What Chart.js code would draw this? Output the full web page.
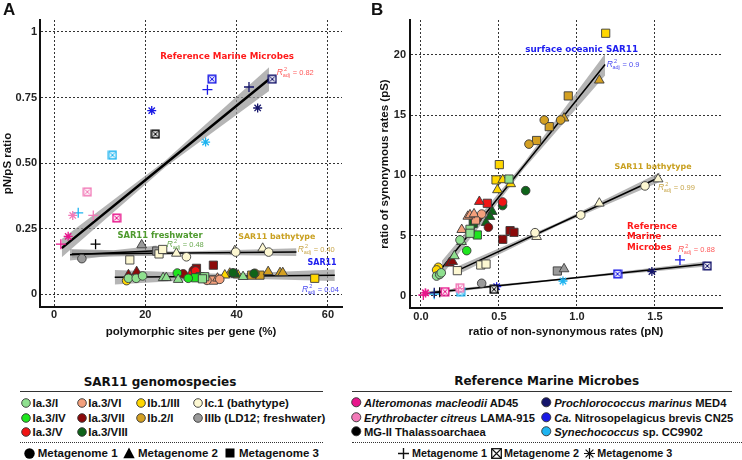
<!DOCTYPE html>
<html>
<head>
<meta charset="utf-8">
<script src="https://cdn.jsdelivr.net/npm/chart.js@4.4.1/dist/chart.umd.min.js"></script>
<style>
  body { margin: 0; background: #fff; width: 742px; height: 460px; overflow: hidden; position: relative; font-family: "Liberation Sans", Arial, sans-serif; }
  canvas { position: absolute; top: 0; }
  .panel { position: absolute; top: 1px; font: bold 17px/17px "Liberation Sans", Arial, sans-serif; color: #111; }
  .lg { position: absolute; height: 14px; display: flex; align-items: center; white-space: nowrap; font: bold 11.5px/14px "Liberation Sans", Arial, sans-serif; color: #111; }
  .lg.ref { font-size: 11.2px; }
  .lg.refmeta { font-size: 10.8px; }
  .lgtitle { position: absolute; transform: translate(-50%, -50%); white-space: nowrap; font: bold 12px "DejaVu Sans", sans-serif; color: #111; }
  .rule { position: absolute; height: 0; border-top: 1.5px solid #333; }
  .rule.dot { border-top-style: dotted; }
</style>
</head>
<body>
<canvas id="chartA" width="370" height="345" style="left:0"></canvas>
<canvas id="chartB" width="372" height="345" style="left:370px"></canvas>
<div class="panel" style="left:3px">A</div>
<div class="panel" style="left:371px">B</div>
<script>
//Achsen -------------------------------------------------------------------
const xTicksA = [0, 20, 40, 60];
const xLabelsA = ['0', '20', '40', '60'];
const yTicksA = [0, 0.25, 0.5, 0.75, 1];
const yLabelsA = ['0', '0.25', '0.50', '0.75', '1'];
const xTicksB = [0, 0.5, 1, 1.5];
const xLabelsB = ['0.0', '0.5', '1.0', '1.5'];
const yTicksB = [0, 5, 10, 15, 20];
const yLabelsB = ['0', '5', '10', '15', '20'];

//Gruppen ------------------------------------------------------------------
const sar11Names = ['Ia.3/I', 'Ia.3/IV', 'Ia.3/V', 'Ia.3/VI', 'Ia.3/VII', 'Ia.3/VIII', 'Ib.1/III', 'Ib.2/I', 'Ic.1 (bathytype)', 'IIIb (LD12; freshwater)'];
const sar11Colors = ['#8fe08f', '#1ee61e', '#f01414', '#f4a07c', '#8c0a0a', '#0f6419', '#ffd700', '#d4a022', '#fdf8d2', '#9a9a9a'];
const refNames = ['<i>Alteromonas macleodii</i> AD45', '<i>Erythrobacter citreus</i> LAMA-915', 'MG-II Thalassoarchaea',
                  '<i>Prochlorococcus marinus</i> MED4', '<i>Ca.</i> Nitrosopelagicus brevis CN25', '<i>Synechococcus</i> sp. CC9902'];
const refColors = ['#e8168c', '#f27ab8', '#000000', '#15156b', '#1a1ae6', '#1eb4f0'];
const metaNames = ['Metagenome 1', 'Metagenome 2', 'Metagenome 3'];

//Panel A: polymorphe Stellen (%) gegen pN/pS  -> [x, y, Metagenom]
const aIa3I    = [[16.3,0.060,1],[18.0,0.060,1],[19.4,0.069,1],[23.9,0.062,2],[24.6,0.062,2],[27.2,0.055,2],[41.4,0.066,2],[33.0,0.066,3],[32.5,0.058,3]];
const aIa3IV   = [[27.0,0.080,1],[29.4,0.060,1],[32.0,0.066,3],[31.0,0.062,3]];
const aIa3V    = [[31.0,0.088,1],[29.8,0.072,2]];
const aIa3VI   = [[36.3,0.056,1],[33.5,0.052,1],[35.8,0.060,2],[34.9,0.053,3]];
const aIa3VII  = [[28.3,0.077,1],[30.5,0.090,1],[16.3,0.073,2],[18.1,0.085,2],[31.2,0.098,3],[34.9,0.110,3]];
const aIa3VIII = [[39.2,0.081,1],[43.8,0.078,1],[39.8,0.075,2]];
const aIb1III  = [[15.9,0.051,1],[37.4,0.072,2],[40.3,0.072,2],[57.1,0.060,3]];
const aIb2I    = [[44.0,0.079,1],[38.5,0.079,2],[46.9,0.085,2],[49.5,0.081,2],[50.1,0.081,2],[43.3,0.072,3],[45.1,0.072,3]];
const aIc1     = [[29.0,0.142,1],[39.8,0.160,1],[47.0,0.160,1],[26.8,0.155,2],[39.6,0.165,2],[45.7,0.174,2],[16.6,0.130,3],[23.0,0.153,3],[23.8,0.170,3]];
const aIIIb    = [[6.1,0.135,1],[19.2,0.187,2],[22.5,0.164,3]];

const aAlt = [[1.5,0.19,1],[13.7,0.29,2],[3.1,0.22,3]];
const aEry = [[8.6,0.30,1],[7.3,0.39,2],[4.1,0.30,3]];
const aMG2 = [[9.1,0.19,1],[22.2,0.61,2]];
const aPro = [[42.7,0.79,1],[47.8,0.82,2],[44.6,0.71,3]];
const aNit = [[33.6,0.78,1],[34.6,0.82,2],[21.4,0.70,3]];
const aSyn = [[5.3,0.31,1],[12.8,0.53,2],[33.2,0.58,3]];

//Regressionen A -> [x, Fit, untere Grenze, obere Grenze]
const aRefFit   = [[1.7,0.175,0.140,0.210],[24.4,0.4975,0.485,0.510],[47.1,0.820,0.775,0.865]];
const aFreshFit = [[3.5,0.150,0.128,0.172],[13.0,0.157,0.147,0.167],[22.5,0.165,0.145,0.185]];
const aBathyFit = [[3.9,0.153,0.138,0.168],[28.5,0.1565,0.1505,0.1625],[53.1,0.160,0.145,0.175]];
const aSarFit   = [[13.3,0.064,0.036,0.092],[37.4,0.068,0.060,0.076],[61.5,0.072,0.050,0.094]];

//Panel B: pN gegen pS -> [x, y, Metagenom]
const bIa3I    = [[0.10,1.65,1],[0.12,1.78,1],[0.13,1.92,1],[0.25,4.65,1],[0.214,3.32,2],[0.26,4.5,2],[0.314,5.53,3],[0.314,5.2,3],[0.564,9.7,3]];
const bIa3IV   = [[0.293,3.76,1],[0.361,5.06,3]];
const bIa3V    = [[0.523,7.8,1],[0.374,7.83,2],[0.425,7.69,3]];
const bIa3VI   = [[0.389,6.8,1],[0.261,5.5,2],[0.30,6.6,2],[0.314,6.72,2],[0.34,6.8,2],[0.35,6.3,3]];
const bIa3VII  = [[0.432,5.7,1],[0.36,6.4,1],[0.181,2.71,2],[0.203,2.85,2],[0.524,4.7,3],[0.571,5.42,3],[0.596,5.28,3]];
const bIa3VIII = [[0.523,7.5,1],[0.671,8.74,1],[0.457,7.0,2],[0.442,6.58,2],[0.417,6.08,2],[0.335,6.03,3]];
const bIb1III  = [[0.111,2.38,1],[0.10,2.16,1],[0.49,8.8,2],[0.524,9.63,2],[0.575,9.3,2],[0.481,9.63,3],[0.502,10.9,3],[1.184,21.8,3]];
const bIb2I    = [[0.692,12.6,1],[0.79,14.6,1],[0.895,14.6,1],[0.917,14.75,2],[1.143,17.9,2],[0.741,12.9,3],[0.822,14.05,3],[0.944,16.6,3]];
const bIc1     = [[0.731,5.25,1],[1.024,6.72,1],[1.436,9.13,1],[0.741,4.92,2],[1.143,7.69,2],[1.52,9.7,2],[0.233,2.1,3],[0.383,2.57,3],[0.417,2.65,3]];
const bIIIb    = [[0.389,1.05,1],[0.917,2.24,2],[0.874,2.07,3]];

const bAlt = [[0.015,0.08,1],[0.154,0.36,2],[0.03,0.25,3]];
const bEry = [[0.24,0.60,1],[0.25,0.69,2],[0.026,0.27,3]];
const bMG2 = [[0.12,0.30,1],[0.468,0.55,2]];
const bPro = [[0.085,0.27,1],[1.835,2.49,2],[1.48,2.02,3]];
const bNit = [[1.66,2.99,1],[1.26,1.83,2],[0.485,0.77,3]];
const bSyn = [[0.085,0.15,1],[0.254,0.36,2],[0.91,1.24,3]];

const bRefFit   = [[0.026,0.22,0.07,0.37],[0.93,1.43,1.37,1.49],[1.83,2.65,2.45,2.85]];
const bBathyFit = [[0.233,2.1,1.75,2.45],[0.88,5.97,5.85,6.09],[1.53,9.85,9.45,10.25]];
const bSurfFit  = [[0.133,2.3,1.7,2.9],[0.66,10.8,10.55,11.05],[1.18,19.2,18.3,20.1]];
//--------------------------------------------------------------------------


//Datensätze bauen -----------------------------------------------------------
const sarShape = ['circle', 'triangle', 'rect'];
const sarRadius = [4.3, 5.6, 5.8];

function sarSets(groups) {
    const sets = [];
    groups.forEach((pts, g) => {
        for (let m = 1; m <= 3; m++) {
            const d = pts.filter(p => p[2] === m).map(p => ({x: p[0], y: p[1]}));
            if (d.length === 0) continue;
            sets.push({type: 'scatter', data: d, pointStyle: sarShape[m - 1], pointRadius: sarRadius[m - 1],
                backgroundColor: sar11Colors[g], borderColor: '#3a3a3a', borderWidth: 0.9, order: 0});
        }
    });
    return sets;
}

// Kästchen mit Kreuz (Metagenom 2) als kleines Canvas-Bild
function crossBox(color) {
    const c = document.createElement('canvas');
    c.width = 10; c.height = 10;
    const g = c.getContext('2d');
    g.fillStyle = '#fff'; g.fillRect(1, 1, 8, 8);
    g.globalAlpha = 0.12; g.fillStyle = color; g.fillRect(1, 1, 8, 8); g.globalAlpha = 1;
    g.strokeStyle = color; g.lineWidth = 1.4; g.strokeRect(1.2, 1.2, 7.6, 7.6);
    g.lineWidth = 1; g.beginPath();
    g.moveTo(2.5, 2.5); g.lineTo(7.5, 7.5); g.moveTo(7.5, 2.5); g.lineTo(2.5, 7.5);
    g.stroke();
    return c;
}

function refSets(groups) {
    const sets = [];
    groups.forEach((pts, g) => {
        for (let m = 1; m <= 3; m++) {
            const d = pts.filter(p => p[2] === m).map(p => ({x: p[0], y: p[1]}));
            if (d.length === 0) continue;
            const style = m === 2 ? crossBox(refColors[g]) : (m === 1 ? 'cross' : 'star');
            sets.push({type: 'scatter', data: d, pointStyle: style, pointRadius: m === 1 ? 5 : 4.5,
                borderColor: refColors[g], backgroundColor: refColors[g], borderWidth: 1.3, order: 0});
        }
    });
    return sets;
}

// Band (grau) + Regressionslinie
function fitSets(rows, width) {
    return [
        {type: 'line', data: rows.map(r => ({x: r[0], y: r[2]})), borderColor: 'rgba(0,0,0,0)', pointRadius: 0, fill: false, order: 2},
        {type: 'line', data: rows.map(r => ({x: r[0], y: r[3]})), borderColor: 'rgba(0,0,0,0)', pointRadius: 0, fill: '-1',
            backgroundColor: 'rgba(150,150,150,0.7)', order: 2},
        {type: 'line', data: rows.map(r => ({x: r[0], y: r[1]})), borderColor: '#000', borderWidth: width, pointRadius: 0, fill: false, order: 1}
    ];
}
//--------------------------------------------------------------------------


//Achsen-Optionen ------------------------------------------------------------
const tickFont = {family: 'Liberation Sans', size: 11, weight: 'bold'};
const titleFont = {family: 'Liberation Sans', size: 11.5, weight: 'bold'};

function xScale(min, max, ticks, labels, title, h, tickPad) {
    return {
        type: 'linear', min: min, max: max,
        afterBuildTicks: s => { s.ticks = ticks.map(v => ({value: v})); },
        afterFit: s => { s.height = h; },
        ticks: {font: tickFont, color: '#222', padding: tickPad, callback: (v, i) => labels[i]},
        grid: {color: '#333', lineWidth: 1, drawTicks: false},
        border: {display: true, color: '#111', width: 2, dash: [2, 2]},
        title: {display: true, text: title, font: titleFont, color: '#111', padding: {top: 0, bottom: 6.5}}
    };
}

function yScale(min, max, ticks, labels, title, titlePad, tickPad) {
    return {
        type: 'linear', min: min, max: max,
        afterBuildTicks: s => { s.ticks = ticks.map(v => ({value: v})); },
        afterFit: s => { s.width = 40; },
        ticks: {font: tickFont, color: '#222', padding: tickPad, callback: (v, i) => labels[i]},
        grid: {color: '#333', lineWidth: 1, drawTicks: false},
        border: {display: true, color: '#111', width: 2, dash: [2, 2]},
        title: {display: true, text: title, font: titleFont, color: '#111', padding: {top: titlePad, bottom: 0}}
    };
}

// R²adj Beschriftung
function drawR2(ctx, px, py, value, color) {
    ctx.fillStyle = color;
    ctx.textAlign = 'left';
    ctx.textBaseline = 'alphabetic';
    const base = py + 2.7;
    ctx.font = 'italic 8.5px "Liberation Sans"';
    ctx.fillText('R', px, base);
    let x = px + ctx.measureText('R').width + 0.3;
    ctx.font = '5.5px "Liberation Sans"';
    ctx.fillText('2', x + 0.8, base - 3.6);
    ctx.fillText('adj', x - 0.6, base + 2.6);
    x += ctx.measureText('adj').width;
    ctx.font = '7.5px "Liberation Sans"';
    ctx.fillText(' = ' + value, x, base);
}

function notes(titles, r2s) {
    return {
        id: 'notes',
        afterDatasetsDraw(chart) {
            const {ctx, scales: {x, y}} = chart;
            ctx.save();
            titles.forEach(t => {
                ctx.font = 'bold ' + t.size + 'px "DejaVu Sans"';
                ctx.fillStyle = t.color;
                ctx.textAlign = t.align || 'center';
                ctx.textBaseline = 'middle';
                ctx.fillText(t.text, x.getPixelForValue(t.x), y.getPixelForValue(t.y));
            });
            r2s.forEach(r => drawR2(ctx, x.getPixelForValue(r.x), y.getPixelForValue(r.y), r.v, r.color));
            ctx.restore();
        }
    };
}

function baseOptions(xs, ys, padRight) {
    return {
        responsive: false, animation: false, events: [],
        layout: {padding: {top: 20, right: padRight, left: 0, bottom: 0}},
        scales: {x: xs, y: ys},
        plugins: {legend: {display: false}, tooltip: {enabled: false}}
    };
}
//--------------------------------------------------------------------------


//Chart A -------------------------------------------------------------------
const notesA = [
    {text: 'Reference Marine Microbes', x: 37.9, y: 0.905, color: '#ff1a1a', size: 8.7},
    {text: 'SAR11 freshwater', x: 23.2, y: 0.221, color: '#4e9a2e', size: 8.4},
    {text: 'SAR11 bathytype', x: 48.8, y: 0.218, color: '#c9a020', size: 7.9},
    {text: 'SAR11', x: 58.7, y: 0.118, color: '#2020f0', size: 8}
];
const r2A = [
    {v: '0.82', x: 48.8, y: 0.847, color: '#ff5a5a'},
    {v: '0.48', x: 24.7, y: 0.191, color: '#6aaa50'},
    {v: '0.40', x: 53.4, y: 0.172, color: '#c8a64a'},
    {v: '0.04', x: 54.3, y: 0.019, color: '#4a4af0'}
];

new Chart(document.getElementById('chartA'), {
    type: 'scatter',
    data: {
        datasets: [
            ...fitSets(aRefFit, 2.5), ...fitSets(aFreshFit, 1.5), ...fitSets(aBathyFit, 1.5), ...fitSets(aSarFit, 1.5),
            ...refSets([aAlt, aEry, aMG2, aPro, aNit, aSyn]),
            ...sarSets([aIa3I, aIa3IV, aIa3V, aIa3VI, aIa3VII, aIa3VIII, aIb1III, aIb2I, aIc1, aIIIb])
        ]
    },
    options: baseOptions(
        xScale(-3.07, 63.07, xTicksA, xLabelsA, 'polymorphic sites per gene (%)', 38, 1.5),
        yScale(-0.0496, 1.0458, yTicksA, yLabelsA, 'pN/pS ratio', 1, 3),
        28),
    plugins: [notes(notesA, r2A)]
});

//Chart B -------------------------------------------------------------------
const notesB = [
    {text: 'surface oceanic SAR11', x: 1.03, y: 20.4, color: '#2020f0', size: 8.8},
    {text: 'SAR11 bathytype', x: 1.487, y: 10.7, color: '#c9a020', size: 7.9},
    {text: 'Reference', x: 1.32, y: 5.73, color: '#ff1a1a', size: 8.8, align: 'left'},
    {text: 'Marine', x: 1.32, y: 4.88, color: '#ff1a1a', size: 8.8, align: 'left'},
    {text: 'Microbes', x: 1.32, y: 3.98, color: '#ff1a1a', size: 8.8, align: 'left'}
];
const r2B = [
    {v: '0.9', x: 1.19, y: 19.25, color: '#4a4af0'},
    {v: '0.99', x: 1.519, y: 9.05, color: '#c8a64a'},
    {v: '0.88', x: 1.647, y: 3.9, color: '#ff5a5a'}
];

new Chart(document.getElementById('chartB'), {
    type: 'scatter',
    data: {
        datasets: [
            ...fitSets(bRefFit, 1.5), ...fitSets(bBathyFit, 1.5), ...fitSets(bSurfFit, 1.5),
            ...refSets([bAlt, bEry, bMG2, bPro, bNit, bSyn]),
            ...sarSets([bIa3I, bIa3IV, bIa3V, bIa3VI, bIa3VII, bIa3VIII, bIb1III, bIb2I, bIc1, bIIIb])
        ]
    },
    options: baseOptions(
        xScale(-0.0705, 1.9295, xTicksB, xLabelsB, 'ratio of non-synonymous rates (pN)', 37, 2),
        yScale(-1.0, 22.9, yTicksB, yLabelsB, 'ratio of synonymous rates (pS)', 8, 4),
        20),
    plugins: [notes(notesB, r2B)]
});
//--------------------------------------------------------------------------


//Legenden (HTML) ------------------------------------------------------------
function sym(kind, color, s) {
    const h = s / 2;
    let body = '';
    if (kind === 'circle') body = `<circle cx="${h}" cy="${h}" r="${h - 0.7}" fill="${color}" stroke="#333" stroke-width="0.9"/>`;
    if (kind === 'dot') body = `<circle cx="${h}" cy="${h}" r="${h - 0.3}" fill="${color}"/>`;
    if (kind === 'triangle') body = `<polygon points="${h},0.5 ${s - 0.3},${s - 0.8} 0.3,${s - 0.8}" fill="${color}"/>`;
    if (kind === 'square') body = `<rect x="0.5" y="0.5" width="${s - 1}" height="${s - 1}" fill="${color}"/>`;
    if (kind === 'plus') body = `<path d="M${h} 0V${s}M0 ${h}H${s}" stroke="${color}" stroke-width="1.4"/>`;
    if (kind === 'boxx') body = `<rect x="0.7" y="0.7" width="${s - 1.4}" height="${s - 1.4}" fill="none" stroke="${color}" stroke-width="1.3"/>` +
        `<path d="M1 1L${s - 1} ${s - 1}M${s - 1} 1L1 ${s - 1}" stroke="${color}" stroke-width="1.1"/>`;
    if (kind === 'star') body = `<path d="M${h} 0V${s}M0 ${h}H${s}M1.6 1.6L${s - 1.6} ${s - 1.6}M${s - 1.6} 1.6L1.6 ${s - 1.6}" stroke="${color}" stroke-width="1.2"/>`;
    return `<svg width="${s}" height="${s}" style="flex:none">${body}</svg>`;
}

function item(cx, cy, svg, size, html, gap, cls) {
    const d = document.createElement('div');
    d.className = 'lg' + (cls ? ' ' + cls : '');
    d.style.left = (cx - size / 2) + 'px';
    d.style.top = (cy - 7) + 'px';
    d.innerHTML = svg + `<span style="margin-left:${gap}px">${html}</span>`;
    document.body.appendChild(d);
}

function addDiv(cls, css, html) {
    const d = document.createElement('div');
    d.className = cls;
    d.style.cssText = css;
    d.innerHTML = html || '';
    document.body.appendChild(d);
}

const legendRows = [402.7, 417.7, 431.7];

// SAR11 Legende
addDiv('lgtitle', 'left:160px;top:381.7px', 'SAR11 genomospecies');
addDiv('rule', 'left:20px;top:391px;width:303px');
const sarCols = [26, 81.7, 140.7, 198];
const sarSlots = [[0,0],[0,1],[0,2],[1,0],[1,1],[1,2],[2,0],[2,1],[3,0],[3,1]];
sar11Names.forEach((n, i) => {
    const [c, r] = sarSlots[i];
    item(sarCols[c], legendRows[r], sym('circle', sar11Colors[i], 10), 10, n, 1.5);
});
addDiv('rule dot', 'left:20px;top:442px;width:303px');
item(29, 453.3, sym('dot', '#000', 11), 11, metaNames[0], 3.2);
item(129, 453.3, sym('triangle', '#000', 12), 12, metaNames[1], 3);
item(230, 453.3, sym('square', '#000', 10), 10, metaNames[2], 4);

// Referenz Legende
addDiv('lgtitle', 'left:546.7px;top:381px', 'Reference Marine Microbes');
addDiv('rule', 'left:352px;top:391px;width:380px');
const refCols = [356.5, 546.7];
refNames.forEach((n, i) => {
    item(refCols[Math.floor(i / 3)], legendRows[i % 3], sym('circle', refColors[i], 10.5), 10.5, n, 2.2, 'ref');
});
addDiv('rule dot', 'left:352px;top:442px;width:390px');
item(403, 453.3, sym('plus', '#111', 11), 11, metaNames[0], 3.5, 'refmeta');
item(496, 453.3, sym('boxx', '#111', 11), 11, metaNames[1], 2.5, 'refmeta');
item(589, 453.3, sym('star', '#111', 11), 11, metaNames[2], 2.8, 'refmeta');
//--------------------------------------------------------------------------
</script>
</body>
</html>
